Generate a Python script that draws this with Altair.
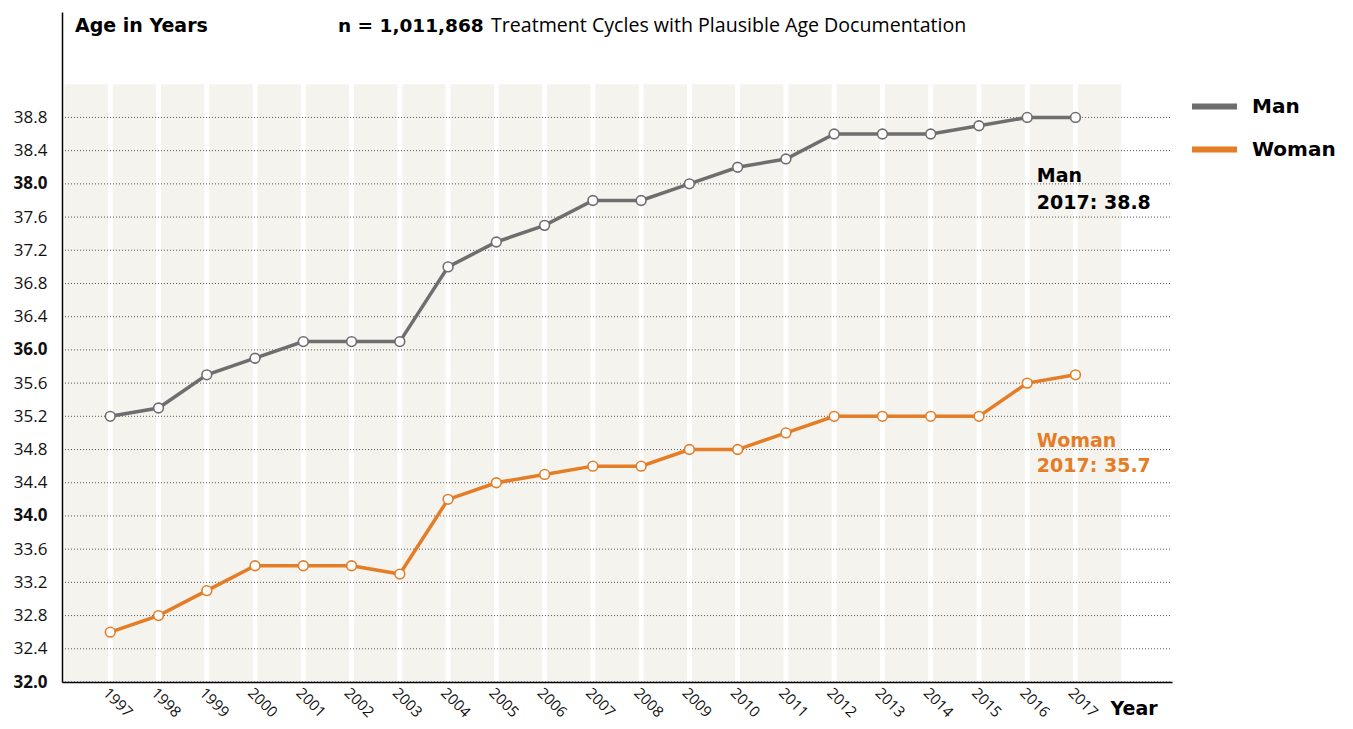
import altair as alt
import pandas as pd

years = list(range(1997, 2018))
man = [35.2, 35.3, 35.7, 35.9, 36.1, 36.1, 36.1, 37.0, 37.3, 37.5, 37.8,
       37.8, 38.0, 38.2, 38.3, 38.6, 38.6, 38.6, 38.7, 38.8, 38.8]
woman = [32.6, 32.8, 33.1, 33.4, 33.4, 33.4, 33.3, 34.2, 34.4, 34.5, 34.6,
         34.6, 34.8, 34.8, 35.0, 35.2, 35.2, 35.2, 35.2, 35.6, 35.7]
series = ["Man", "Woman"]
colors = ["#6e6e6e", "#e47d26"]
band_years = list(range(1996, 2018))
y_ticks = [32.0, 32.4, 32.8, 33.2, 33.6, 34.0, 34.4, 34.8, 35.2, 35.6,
           36.0, 36.4, 36.8, 37.2, 37.6, 38.0, 38.4, 38.8]

FONT = "Open Sans"
BOLD = "DejaVu Sans"

rows = []
for s, vals in zip(series, [man, woman]):
    for yr, v in zip(years, vals):
        rows.append({"year": yr, "age": v, "series": s})
df = pd.DataFrame(rows)

xs = alt.Scale(domain=[1996, 2019], nice=False, zero=False)
ys = alt.Scale(domain=[32, 40.07], nice=False, zero=False)

xaxis = alt.Axis(values=years, format="d", labelAngle=45, labelAlign="left",
                 labelBaseline="top", labelFontSize=15, labelFont=FONT,
                 labelColor="#111", labelPadding=3, ticks=False, grid=False,
                 labelOverlap=False, domainColor="black", domainWidth=1.5,
                 zindex=1, title="Year", titleX=1048, titleY=26,
                 titleAlign="left", titleBaseline="middle", titleFontSize=19,
                 titleFont=BOLD, titleFontWeight="bold", titleColor="black",
                 titleAngle=0)
yaxis = alt.Axis(values=y_ticks, format=".1f", labelFontSize=17, labelFont=FONT,
                 labelColor="#111", labelPadding=15, ticks=False, grid=False,
                 labelOverlap=False, labelSeparation=0, tickCount=18,
                 domainColor="black", domainWidth=1.5, zindex=1, title=None,
                 labelFontWeight={"expr": "abs(datum.value - round(datum.value/2)*2) < 0.01 ? 'bold' : 'normal'"})

base_x = alt.X("year:Q", scale=xs, axis=xaxis)
base_y = alt.Y("age:Q", scale=ys, axis=yaxis)

bands = alt.Chart(pd.DataFrame({"year": band_years})).transform_calculate(
    x0="max(datum.year + 0.05, 1996)", x1="datum.year + 0.95"
).mark_rect(color="#f5f3ee").encode(
    x=alt.X("x0:Q", scale=xs, axis=xaxis),
    x2="x1:Q",
    y=alt.Y(datum=32.0, scale=ys, axis=yaxis),
    y2=alt.datum(39.2),
)

grid = alt.Chart(pd.DataFrame({"tick": y_ticks})).mark_rule(
    color="#555", strokeWidth=1, strokeDash=[1, 2]
).encode(
    y=alt.Y("tick:Q", scale=ys, axis=yaxis),
    x=alt.datum(1996),
    x2=alt.datum(2019),
)

color_scale = alt.Scale(domain=series, range=colors)

lines = alt.Chart(df).mark_line(strokeWidth=3.5).encode(
    x=base_x, y=base_y,
    color=alt.Color("series:N", scale=color_scale, legend=alt.Legend(
        title=None, orient="none", legendX=1127, legendY=69,
        symbolType="stroke", symbolSize=2025, symbolStrokeWidth=6,
        labelFontSize=20, labelFont=BOLD, labelFontWeight="bold",
        labelColor="black", labelOffset=12, rowPadding=5)),
)

points = alt.Chart(df).mark_point(shape="circle", fill="white", fillOpacity=1,
                                  opacity=1, size=95, strokeWidth=1.6).encode(
    x=base_x, y=base_y,
    stroke=alt.Stroke("series:N", scale=color_scale, legend=None),
)

ann_man = alt.Chart(pd.DataFrame({"t": [0]})).mark_text(
    align="left", baseline="middle", fontSize=19, fontWeight="bold", font=BOLD,
    lineHeight=27, color="black", text=[series[0], f"{years[-1]}: {man[-1]}"]
).encode(x=alt.datum(2016.2), y=alt.datum(38.10))

ann_woman = alt.Chart(pd.DataFrame({"t": [0]})).mark_text(
    align="left", baseline="middle", fontSize=19, fontWeight="bold", font=BOLD,
    lineHeight=25, color=colors[1], text=[series[1], f"{years[-1]}: {woman[-1]}"]
).encode(x=alt.datum(2016.2), y=alt.datum(34.90))

title1 = alt.Chart(pd.DataFrame({"t": [0]})).mark_text(
    align="left", baseline="middle", fontSize=19, fontWeight="bold", font=BOLD,
    color="black", text="Age in Years"
).encode(x=alt.value(13), y=alt.value(14))

title2 = alt.Chart(pd.DataFrame({"t": [0]})).mark_text(
    align="left", baseline="middle", fontSize=18.5, fontWeight="bold", font=BOLD,
    color="black", text="n = 1,011,868"
).encode(x=alt.value(276), y=alt.value(14))

title3 = alt.Chart(pd.DataFrame({"t": [0]})).mark_text(
    align="left", baseline="middle", fontSize=19.6, fontWeight="normal", font=FONT,
    color="black", text="Treatment Cycles with Plausible Age Documentation"
).encode(x=alt.value(429), y=alt.value(14))

chart = alt.layer(bands, grid, lines, points, ann_man, ann_woman,
                  title1, title2, title3).properties(
    width=1110, height=670,
    autosize=alt.AutoSizeParams(type="none"),
    padding={"left": 54, "top": 4, "right": 173, "bottom": 39},
).configure_view(stroke=None).configure_axisY(labelOverlap=False)

chart.save("out.html", embed_options={"renderer": "svg", "actions": False})
